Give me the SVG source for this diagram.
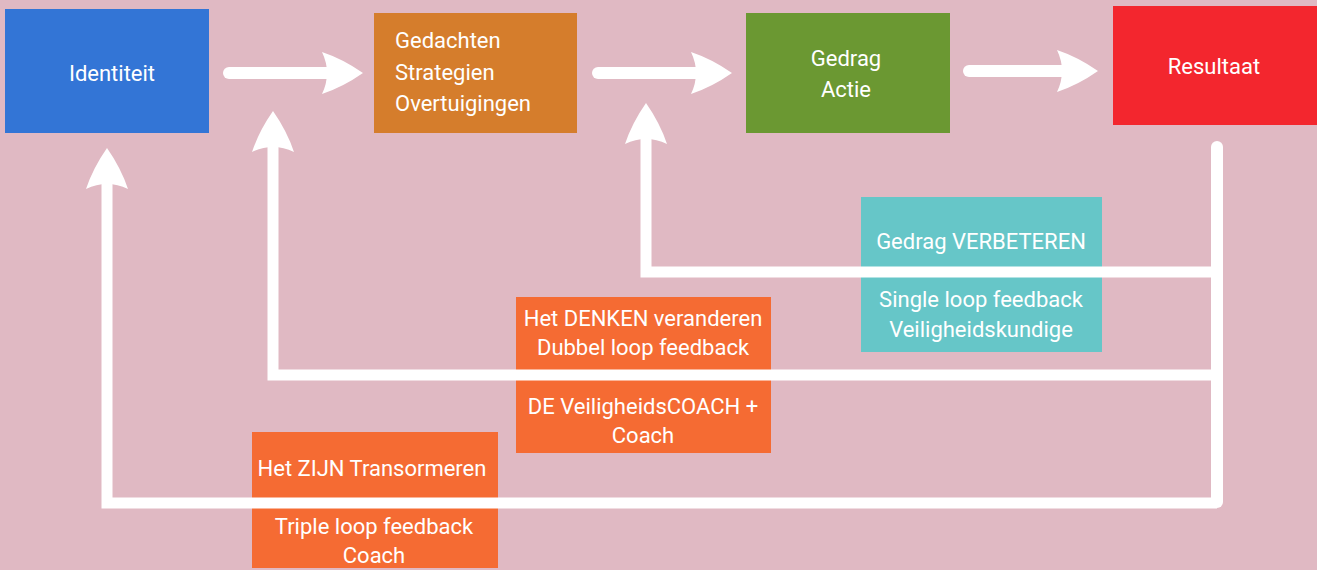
<svg xmlns="http://www.w3.org/2000/svg" width="1317" height="570" viewBox="0 0 1317 570">
<style>
.t{font-family:Roboto,"Open Sans",sans-serif;font-size:22px;fill:#fff;text-anchor:middle}
.tl{font-family:Roboto,"Open Sans",sans-serif;font-size:22px;fill:#fff;text-anchor:start}
.ln{fill:none;stroke:#fff;stroke-width:11}
.sh{fill:none;stroke:#fff;stroke-width:12;stroke-linecap:round}
.hd{fill:#fff}
</style>
<defs>
<path id="ah" d="M0,0 Q-20,-14 -41,-21 Q-31,0 -41,21 Q-20,14 0,0 Z"/>
</defs>
<rect width="1317" height="570" fill="#e0b9c3"/>
<g id="identiteit">
<rect x="5" y="9" width="204" height="124" fill="#3375d6"/>
<text class="t" x="112" y="81">Identiteit</text>
</g>
<g id="gedachten">
<rect x="374" y="13" width="203" height="120" fill="#d57d2c"/>
<text class="tl" x="395" y="48">Gedachten</text>
<text class="tl" x="395" y="80">Strategien</text>
<text class="tl" x="395" y="111">Overtuigingen</text>
</g>
<g id="gedrag">
<rect x="746" y="13" width="204" height="120" fill="#6b9832"/>
<text class="t" x="846" y="66">Gedrag</text>
<text class="t" x="846" y="97">Actie</text>
</g>
<g id="resultaat">
<rect x="1113" y="6" width="204" height="119" fill="#f3262e"/>
<text class="t" x="1214" y="74">Resultaat</text>
</g>
<g id="single-loop">
<rect x="861" y="197" width="241" height="155" fill="#66c6c8"/>
<text class="t" x="981" y="249">Gedrag VERBETEREN</text>
<text class="t" x="981" y="307">Single loop feedback</text>
<text class="t" x="981" y="337">Veiligheidskundige</text>
</g>
<g id="dubbel-loop">
<rect x="516" y="297" width="255" height="156" fill="#f56b33"/>
<text class="t" x="643" y="326">Het DENKEN veranderen</text>
<text class="t" x="643" y="355">Dubbel loop feedback</text>
<text class="t" x="643" y="414">DE VeiligheidsCOACH +</text>
<text class="t" x="643" y="443">Coach</text>
</g>
<g id="triple-loop">
<rect x="252" y="432" width="246" height="136" fill="#f56b33"/>
<text class="t" x="372" y="476">Het ZIJN Transormeren</text>
<text class="t" x="374" y="534">Triple loop feedback</text>
<text class="t" x="374" y="563">Coach</text>
</g>
<g id="connectors">
<line class="sh" x1="229" y1="73" x2="330" y2="73"/>
<use href="#ah" class="hd" transform="translate(363,73)"/>
<line class="sh" x1="598" y1="73" x2="700" y2="73"/>
<use href="#ah" class="hd" transform="translate(732,73)"/>
<line class="sh" x1="969" y1="71" x2="1065" y2="71"/>
<use href="#ah" class="hd" transform="translate(1098,71)"/>
<line class="sh" x1="1217" y1="147" x2="1217" y2="502"/>
<polyline class="ln" points="1217,272 646,272 646,138"/>
<use href="#ah" class="hd" transform="translate(646,103) rotate(-90)"/>
<polyline class="ln" points="1217,375 273,375 273,146"/>
<use href="#ah" class="hd" transform="translate(273,111) rotate(-90)"/>
<polyline class="ln" points="1217,503 107,503 107,183"/>
<use href="#ah" class="hd" transform="translate(107,148) rotate(-90)"/>
</g>
</svg>
